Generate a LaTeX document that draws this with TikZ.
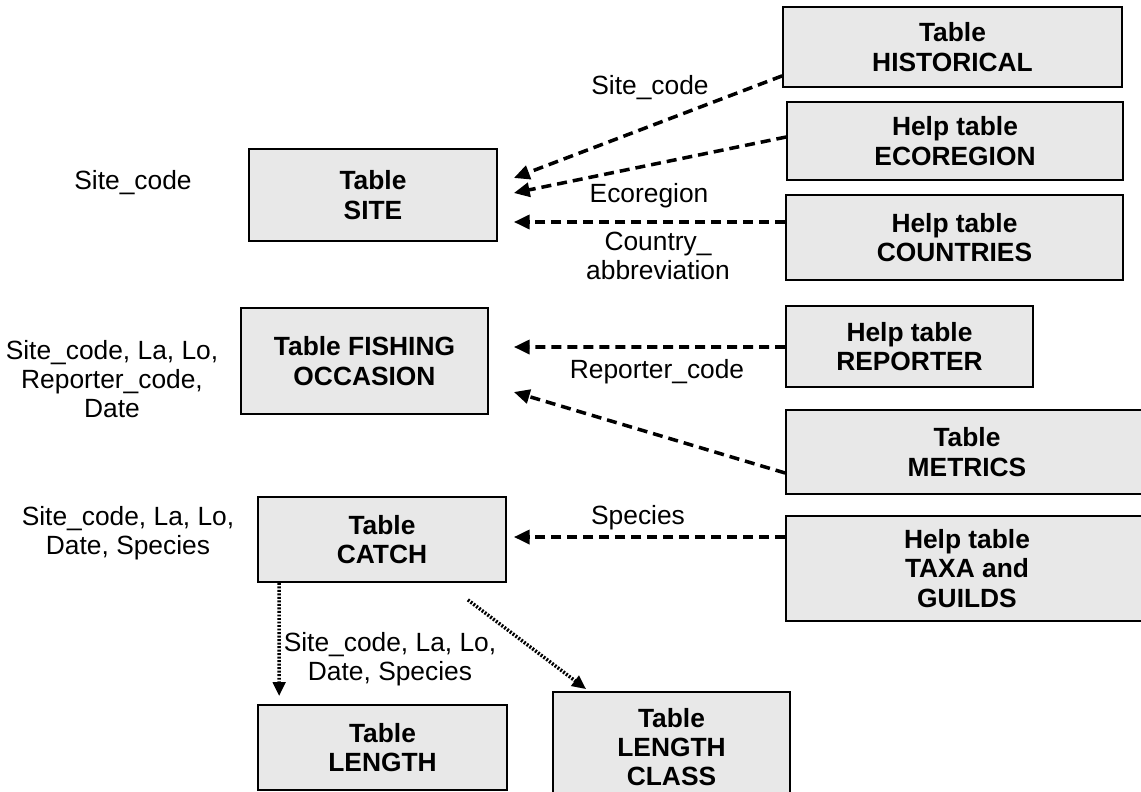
\documentclass[tikz,border=0pt]{standalone}
\usepackage{fontspec}
\setmainfont{Liberation Sans}
\usetikzlibrary{arrows.meta, calc}
\definecolor{boxgray}{RGB}{232, 232, 232}

\begin{document}
\begin{tikzpicture}[x=0.02cm, y=-0.02cm,
  tbl/.style={draw=black, line width=1pt, fill=boxgray, align=center, inner sep=0pt, font=\bfseries\fontsize{15}{16.6}\selectfont},
  lbl/.style={align=center, inner sep=0pt, font=\fontsize{15}{16.6}\selectfont},
  link/.style={-{Triangle[length=9pt, width=8pt]}, line width=2pt, dash pattern=on 5.7pt off 3.4pt},
  sublink/.style={-{Triangle[length=8pt, width=7pt]}, line width=2pt, dash pattern=on 1.1pt off 0.9pt}]
  \useasboundingbox (0, 0) rectangle (1141, 791);
  \clip (0, 0) rectangle (1141, 791);

  % Main tables
  \node[tbl, minimum width=4.96cm, minimum height=1.84cm] (site) at (373, 195) {Table\\SITE};
  \node[tbl, minimum width=4.94cm, minimum height=2.12cm] (fish) at (364.5, 361) {Table FISHING\\OCCASION};
  \node[tbl, minimum width=4.96cm, minimum height=1.7cm] (catch) at (382, 539.5) {Table\\CATCH};
  \node[tbl, minimum width=4.98cm, minimum height=1.7cm] (length) at (382.5, 747.5) {Table\\LENGTH};
  \node[tbl, minimum width=4.74cm, minimum height=2.2cm] (lclass) at (671.5, 747) {Table\\LENGTH\\CLASS};

  % Help tables
  \node[tbl, minimum width=6.78cm, minimum height=1.6cm] (hist) at (952.5, 47) {Table\\HISTORICAL};
  \node[tbl, minimum width=6.72cm, minimum height=1.56cm] (eco) at (955, 141) {Help table\\ECOREGION};
  \node[tbl, minimum width=6.74cm, minimum height=1.7cm] (ctry) at (954.5, 237.5) {Help table\\COUNTRIES};
  \node[tbl, minimum width=4.94cm, minimum height=1.62cm] (rep) at (909.5, 346.5) {Help table\\REPORTER};
  \node[tbl, minimum width=7.24cm, minimum height=1.68cm] (metr) at (967, 452) {Table\\METRICS};
  \node[tbl, minimum width=7.24cm, minimum height=2.1cm] (taxa) at (967, 568.5) {Help table\\TAXA and\\GUILDS};

  % Key fields
  \node[lbl] (lsite) at (133, 183) {Site\_code};
  \node[lbl] (lfish) at (112, 379) {Site\_code, La, Lo,\\Reporter\_code,\\Date};
  \node[lbl] (lcatch) at (128, 533) {Site\_code, La, Lo,\\Date, Species};

  % Links
  \draw[link] ($(hist.south west)+(0, -12)$) -- ($(site.east)+(16, -17)$);
  \draw[link] ($(eco.west)+(0, -4)$) -- ($(site.east)+(16, -2)$);
  \draw[link] ($(ctry.west)+(0, -15.5)$) -- ($(site.east)+(16, 27)$);
  \draw[link] ($(rep.west)+(0, 0.5)$) -- ($(fish.east)+(25, -14)$);
  \draw[link] ($(metr.west)+(0, 21)$) -- ($(fish.east)+(25, 31)$);
  \draw[link] ($(taxa.west)+(0, -31.5)$) -- ($(catch.east)+(7, -2.5)$);
  \draw[sublink] ($(catch.south west)+(22, 0)$) -- ($(length.north west)+(22, -8)$);
  \draw[sublink] ($(catch.south east)+(-39, 17)$) -- ($(lclass.north west)+(34, -2)$);

  % Link labels
  \node[lbl] (khist) at (650, 88) {Site\_code};
  \node[lbl] (keco) at (649, 196) {Ecoregion};
  \node[lbl] (kctry) at (658, 256) {Country\_\\abbreviation};
  \node[lbl] (krep) at (657, 372) {Reporter\_code};
  \node[lbl] (ktaxa) at (638, 518) {Species};
  \node[lbl] (klen) at (390, 659) {Site\_code, La, Lo,\\Date, Species};
\end{tikzpicture}
\end{document}
